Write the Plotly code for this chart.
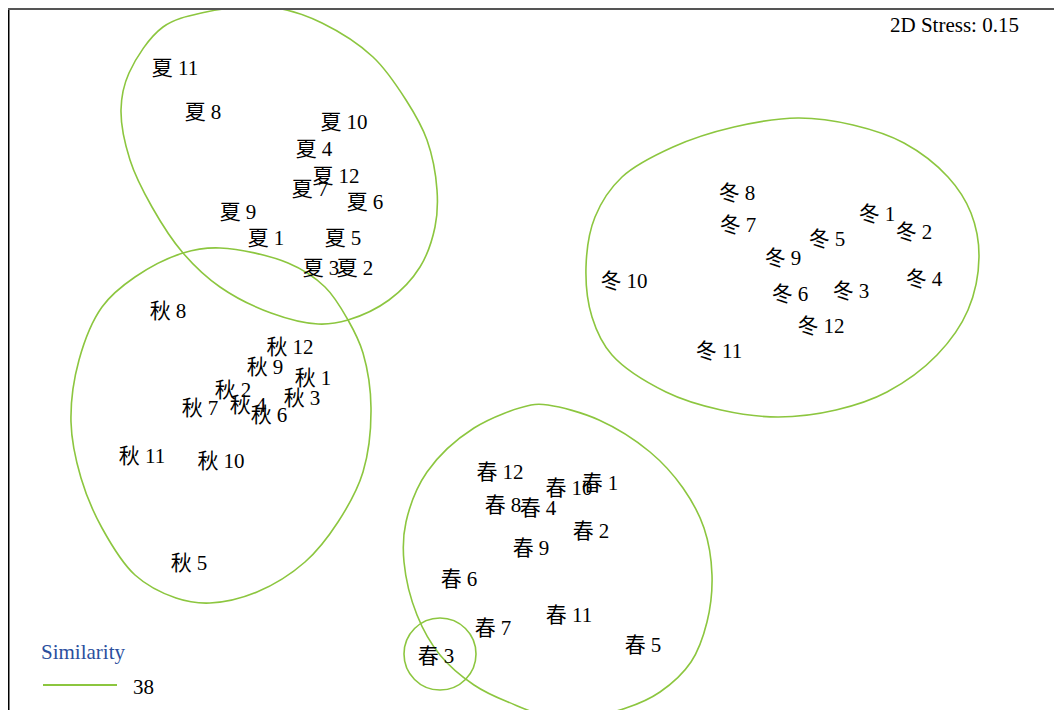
import plotly.graph_objects as go

# ---- sample labels and their ordination positions (picture units) ----
summer_labels = ["夏 11", "夏 8", "夏 10", "夏 4", "夏 12", "夏 7", "夏 6", "夏 9", "夏 1", "夏 5", "夏 3", "夏 2"]
summer_x = [175, 203, 344, 314, 336, 310, 365, 238, 266, 343, 321, 355]
summer_y = [67, 111, 121, 148, 175, 188, 201, 211, 237, 237, 267, 267]

autumn_labels = ["秋 8", "秋 12", "秋 9", "秋 1", "秋 2", "秋 3", "秋 7", "秋 4", "秋 6", "秋 11", "秋 10", "秋 5"]
autumn_x = [168, 290, 265, 313, 233, 302, 200, 248, 269, 142, 221, 189]
autumn_y = [310, 346, 366, 377, 389, 397, 407, 404, 414, 455, 460, 562]

winter_labels = ["冬 8", "冬 7", "冬 1", "冬 2", "冬 5", "冬 9", "冬 10", "冬 4", "冬 6", "冬 3", "冬 12", "冬 11"]
winter_x = [737, 738, 877, 914, 827, 783, 624, 924, 790, 851, 821, 719]
winter_y = [192, 224, 213, 231, 238, 257, 280, 278, 293, 290, 325, 350]

spring_labels = ["春 12", "春 10", "春 1", "春 8", "春 4", "春 2", "春 9", "春 6", "春 7", "春 3", "春 11", "春 5"]
spring_x = [500, 569, 600, 503, 538, 591, 531, 459, 493, 436, 569, 643]
spring_y = [471, 487, 482, 504, 507, 530, 547, 578, 627, 655, 614, 644]

# ---- similarity (38%) contour outlines ----
summer_cx = [249, 277, 322, 373, 406, 427, 437, 435, 420, 389, 348, 318, 271, 220, 183, 152, 130, 121, 129, 163, 206]
summer_cy = [7, 8, 23, 57, 100, 140, 190, 227, 267, 300, 320, 324, 313, 287, 253, 207, 160, 110, 73, 27, 12]

autumn_cx = [220, 288, 325, 348, 363, 371, 363, 338, 305, 257, 210, 176, 135, 102, 81, 71, 79, 102, 135, 183]
autumn_cy = [248, 263, 287, 320, 353, 408, 472, 522, 562, 592, 603, 598, 575, 528, 478, 422, 360, 307, 277, 253]

winter_cx = [798, 853, 904, 948, 971, 979, 968, 937, 887, 836, 778, 721, 666, 612, 592, 586, 595, 622, 673, 734]
winter_cy = [118, 125, 143, 177, 213, 257, 310, 355, 392, 410, 417, 410, 392, 355, 317, 267, 217, 177, 147, 127]

spring_cx = [548, 599, 650, 683, 704, 712, 707, 691, 660, 626, 565, 508, 474, 440, 417, 404, 406, 427, 474, 531]
spring_cy = [405, 420, 452, 488, 528, 575, 622, 662, 692, 708, 720, 702, 685, 655, 615, 562, 522, 472, 428, 405]

small_circle_center = (440, 654)
small_circle_radius = 36

stress_text = "2D Stress: 0.15"
legend_title = "Similarity"
legend_value = "38"

GREEN = "#8cc63f"
FONT = "Liberation Serif, 'Times New Roman', 'Noto Sans CJK SC', serif"
TEXT_DY = 3  # visual centring correction for text glyphs

# page body has an 8px margin, so the figure is 8px smaller than the window
W, H = 1054, 702
OFF = 8

fig = go.Figure()

for cx, cy in [(summer_cx, summer_cy), (autumn_cx, autumn_cy),
               (winter_cx, winter_cy), (spring_cx, spring_cy)]:
    fig.add_trace(go.Scatter(
        x=cx + [cx[0]], y=cy + [cy[0]], mode="lines",
        line=dict(color=GREEN, width=1.6, shape="spline", smoothing=1.0),
        hoverinfo="skip", showlegend=False))

ccx, ccy = small_circle_center
fig.add_shape(type="circle", xref="x", yref="y",
              x0=ccx - small_circle_radius, x1=ccx + small_circle_radius,
              y0=ccy - small_circle_radius, y1=ccy + small_circle_radius,
              line=dict(color=GREEN, width=1.6))

for labels, xs, ys in [(summer_labels, summer_x, summer_y),
                       (autumn_labels, autumn_x, autumn_y),
                       (winter_labels, winter_x, winter_y),
                       (spring_labels, spring_x, spring_y)]:
    fig.add_trace(go.Scatter(
        x=xs, y=[v + TEXT_DY for v in ys], mode="text", text=labels,
        textposition="middle center",
        textfont=dict(family=FONT, size=21, color="black"),
        hoverinfo="skip", showlegend=False, cliponaxis=False))

# frame (left and top border)
fig.add_shape(type="line", xref="paper", yref="paper",
              x0=0.75 / W, x1=0.75 / W, y0=0, y1=1,
              line=dict(color="black", width=1.5))
fig.add_shape(type="line", xref="paper", yref="paper",
              x0=0, x1=1, y0=1 - 1 / H, y1=1 - 1 / H,
              line=dict(color="#555555", width=2))

# stress annotation
fig.add_annotation(x=888, y=25, xref="x", yref="y", text=stress_text,
                   showarrow=False, xanchor="left", yanchor="middle",
                   font=dict(family=FONT, size=21, color="black"))

# legend (manual)
fig.add_annotation(x=39, y=652, xref="x", yref="y", text=legend_title,
                   showarrow=False, xanchor="left", yanchor="middle",
                   font=dict(family=FONT, size=21, color="#2b4f9e"))
fig.add_shape(type="line", xref="x", yref="y", x0=43, x1=117, y0=685, y1=685,
              line=dict(color=GREEN, width=2))
fig.add_annotation(x=131, y=687, xref="x", yref="y", text=legend_value,
                   showarrow=False, xanchor="left", yanchor="middle",
                   font=dict(family=FONT, size=21, color="black"))

fig.update_layout(
    width=W, height=H,
    margin=dict(l=0, r=0, t=0, b=0),
    paper_bgcolor="white", plot_bgcolor="white",
    xaxis=dict(range=[OFF, OFF + W], visible=False, fixedrange=True),
    yaxis=dict(range=[OFF + H, OFF], visible=False, fixedrange=True),
    showlegend=False,
)

fig.write_html("out.html")
